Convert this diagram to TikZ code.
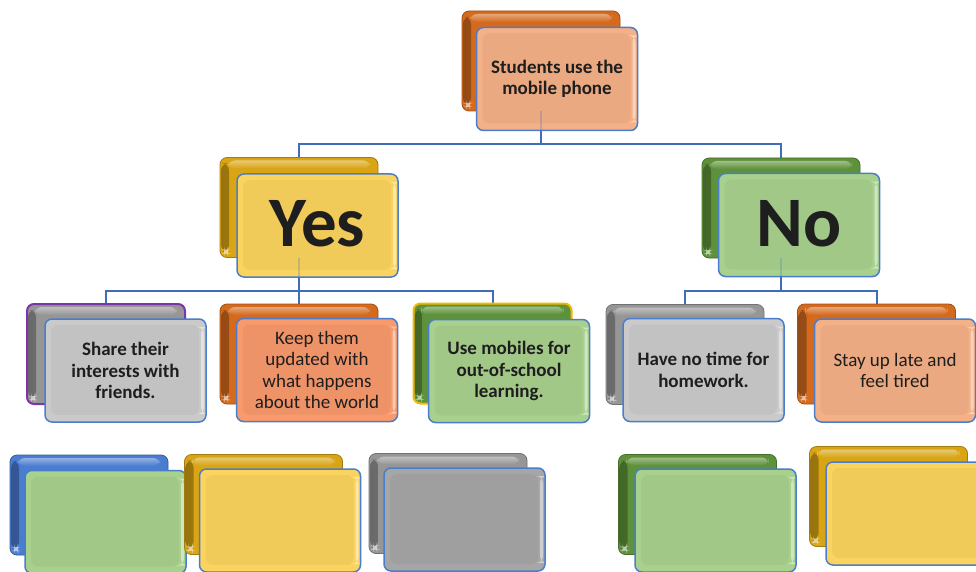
\documentclass[tikz,border=0pt]{standalone}
\usepackage{fontspec}
\setmainfont{Carlito}
\usetikzlibrary{backgrounds}
\definecolor{lineblue}{HTML}{3F6DB8}
\definecolor{frontblue}{HTML}{4A7DCB}
\definecolor{orgB}{HTML}{D46A1E}
\definecolor{yelB}{HTML}{D9A514}
\definecolor{grnB}{HTML}{5E923A}
\definecolor{gryB}{HTML}{969696}
\definecolor{bluB}{HTML}{4A7CD0}
\definecolor{peachF}{HTML}{F4B086}
\definecolor{orgF}{HTML}{F89A6C}
\definecolor{yelF}{HTML}{FAD45E}
\definecolor{grnF}{HTML}{A9D18E}
\definecolor{lgryF}{HTML}{CACACA}
\definecolor{gryF}{HTML}{A6A6A6}
\definecolor{purB}{HTML}{7A35A8}
\definecolor{goldB}{HTML}{F2B700}
\definecolor{txt}{HTML}{1E1E1E}
\tikzset{
  backbox/.style={rectangle, rounded corners=7pt, minimum width=158pt, minimum height=100pt,
    inner sep=0pt, fill=#1, draw=#1!75!black, line width=0.8pt,
    path picture={
      \shade[left color=#1!70!black, right color=#1]
        ([xshift=1pt,yshift=-6pt]path picture bounding box.north west) rectangle
        ([xshift=9pt,yshift=6pt]path picture bounding box.south west);
      \shade[top color=#1!55!white, bottom color=#1, opacity=0.9]
        ([xshift=8pt,yshift=-3pt]path picture bounding box.north west) rectangle
        ([xshift=-8pt,yshift=-11pt]path picture bounding box.north east);
      \fill[white, opacity=0.6]
        ([xshift=4pt,yshift=4pt]path picture bounding box.south west) rectangle
        ([xshift=8pt,yshift=8pt]path picture bounding box.south west);
    }},
  frontbox/.style={rectangle, rounded corners=7pt, minimum width=161pt, minimum height=103pt,
    inner sep=0pt, fill=#1, text=txt, draw=frontblue,
    line width=1.5pt, align=center,
    font=\fontsize{19}{21.5}\selectfont\bfseries,
    path picture={
      \fill[black, opacity=0.04]
        ([shift={(6pt,-6pt)}]path picture bounding box.north west) rectangle
        ([shift={(-7pt,7pt)}]path picture bounding box.south east);
      \fill[white, opacity=0.45]
        ([shift={(-5pt,-8pt)}]path picture bounding box.north east) rectangle
        ([shift={(-2pt,8pt)}]path picture bounding box.south east);
    }},
  conn/.style={draw=lineblue, line width=2pt},
  faint/.style={draw=lineblue, line width=2pt, draw opacity=0.25},
  regtext/.style={font=\fontsize{19}{21.5}\selectfont},
  bigtext/.style={font=\fontsize{71}{71}\selectfont\bfseries}
}
\begin{document}
\begin{tikzpicture}[x=1pt,y=-1pt]
\useasboundingbox (0,0) rectangle (976,572);

% top
\node[backbox=orgB] (topB) at (541,61) {};
\node[frontbox=peachF] (topF) at (557,79) {Students use the\\mobile phone};

% Yes / No
\node[backbox=yelB] (yesB) at (299,207.5) {};
\node[frontbox=yelF, bigtext] (yesF) at (317.5,225.5) {\raisebox{4pt}{Yes}};
\node[backbox=grnB] (noB) at (781,208) {};
\node[frontbox=grnF, bigtext] (noF) at (799,225) {\raisebox{4pt}{No}};

% level 2
\node[backbox=gryB, draw=purB, line width=2pt] (shareB) at (106,354) {};
\node[frontbox=lgryF] (shareF) at (125.5,370.5) {Share their\\interests with\\friends.};
\node[backbox=orgB] (keepB) at (299,354) {};
\node[frontbox=orgF, regtext] (keepF) at (317,370) {Keep them\\updated with\\what happens\\about the world};
\node[backbox=grnB, draw=goldB, line width=2pt] (useB) at (492.5,353.5) {};
\node[frontbox=grnF] (useF) at (509,371) {Use mobiles for\\out-of-school\\learning.};
\node[backbox=gryB] (haveB) at (685,354.5) {};
\node[frontbox=lgryF] (haveF) at (703.5,370) {Have no time for\\homework.};
\node[backbox=orgB] (stayB) at (876.5,354) {};
\node[frontbox=peachF, regtext] (stayF) at (895,370.5) {Stay up late and\\feel tired};

% bottom row
\node[backbox=bluB] (b1B) at (89,505) {};
\node[frontbox=grnF] (b1F) at (105.5,522) {};
\node[backbox=yelB] (b2B) at (263.5,504.5) {};
\node[frontbox=yelF] (b2F) at (280,520.5) {};
\node[backbox=gryB] (b3B) at (448,503.5) {};
\node[frontbox=gryF] (b3F) at (464.5,519.5) {};
\node[backbox=grnB] (b4B) at (697.5,504.5) {};
\node[frontbox=grnF] (b4F) at (715.5,520.5) {};
\node[backbox=yelB] (b5B) at (888.5,496.5) {};
\node[frontbox=yelF] (b5F) at (906.5,513.5) {};

\begin{pgfonlayer}{background}
\draw[conn] (topB.south) -- ++(0,33) coordinate (bus1);
\draw[conn] (bus1) -| (yesB.north);
\draw[conn] (bus1) -| (noB.north);
\draw[conn] (yesB.south) -- ++(0,33) coordinate (bus2);
\draw[conn] (bus2) -| (shareB.north);
\draw[conn] (bus2) -| (keepB.north);
\draw[conn] (bus2) -| (useB.north);
\draw[conn] (noB.south) -- ++(0,33) coordinate (bus3);
\draw[conn] (bus3) -| (haveB.north);
\draw[conn] (bus3) -| (stayB.north);
\end{pgfonlayer}
% the connector seen faintly through the front boxes
\draw[faint] (topB.south) -- (topB.south |- topF.south);
\draw[faint] (yesB.south) -- (yesB.south |- yesF.south);
\draw[faint] (noB.south) -- (noB.south |- noF.south);
\end{tikzpicture}
\end{document}
